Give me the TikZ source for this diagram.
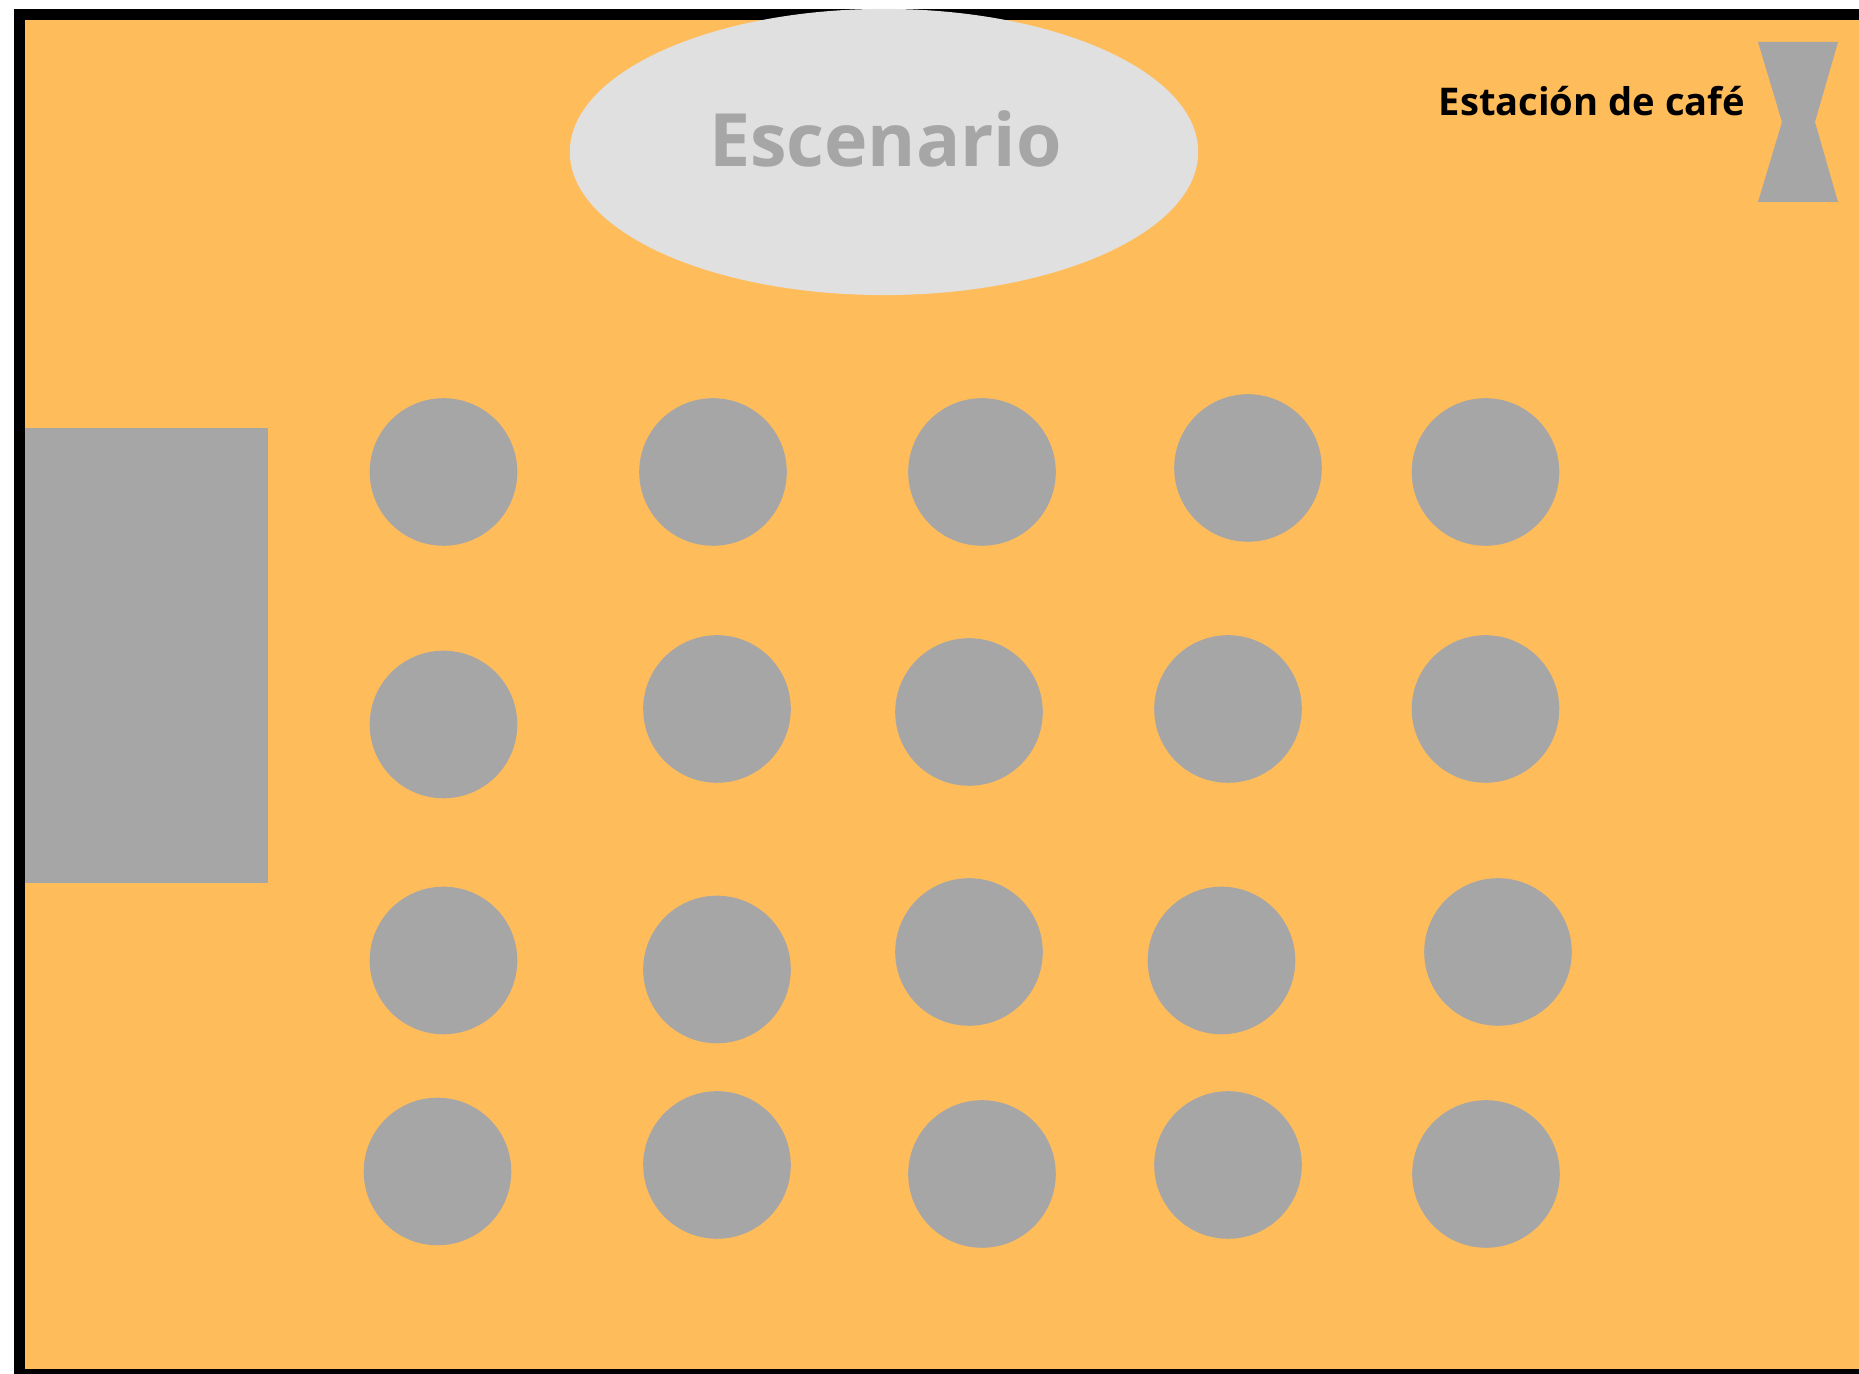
\documentclass[tikz,border=0pt]{standalone}
\usepackage{fontspec}
\usetikzlibrary{shapes.geometric}
\setmainfont{Open Sans}[BoldFont={Open Sans Bold}]
\definecolor{floorcol}{HTML}{FFBC5B}
\definecolor{tablecol}{HTML}{A6A6A6}
\definecolor{stagecol}{HTML}{E0E0E0}
\tikzset{
	tablenode/.style={circle, fill=tablecol, minimum size=1.475cm, inner sep=0pt},
	labelnode/.style={anchor=base, inner sep=0pt, font=\bfseries},
}
\begin{document}
\begin{tikzpicture}[x=0.01cm, y=-0.01cm]
	\useasboundingbox (0,0) rectangle (1859,1374);
	\fill[white] (0,0) rectangle (1859,1374);
	\fill[black] (14,9.5) rectangle (1900,1400);
	\fill[floorcol] (25,20.5) rectangle (1900,1369);

	\node[ellipse, fill=stagecol, minimum width=6.28cm, minimum height=2.86cm, inner sep=0pt] (stage) at (884,152) {};
	\node[labelnode, text=tablecol, font=\bfseries\fontsize{20.9}{25}\selectfont] (stagelabel) at (885.5,167) {Escenario};

	\node[labelnode, text=black, font=\bfseries\fontsize{10.85}{14}\selectfont] (cafelabel) at (1592,116) {Estación de café};
	\fill[tablecol] (1758,42) -- (1838,42) -- (1815,122) -- (1838,202) -- (1758,202) -- (1782,122) -- cycle;

	\fill[tablecol] (25,428) rectangle (268,883);

	\foreach \tx/\ty [count=\i] in {
		443.5/472, 713/472, 982/472, 1248/468, 1485.5/472,
		443.5/724.5, 717/709, 969/712, 1228/709, 1485.5/709,
		443.5/960.5, 717/969.5, 969/952, 1221.5/960.5, 1498/952,
		437.5/1171.5, 717/1165, 982/1174, 1228/1165, 1486/1174}
		\node[tablenode] (table\i) at (\tx,\ty) {};
\end{tikzpicture}
\end{document}
